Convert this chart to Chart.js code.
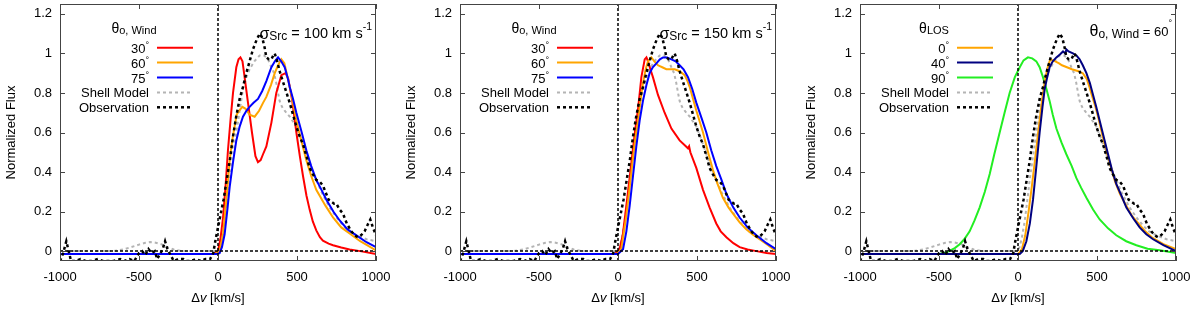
<!DOCTYPE html>
<html>
<head>
<meta charset="utf-8">
<script src="https://cdn.jsdelivr.net/npm/chart.js@4/dist/chart.umd.min.js"></script>
<style>
  body { margin: 0; background: #fff; }
  #wrap { position: relative; width: 1200px; height: 309px; }
  .panel { position: absolute; top: 0; width: 400px; height: 309px; }
</style>
</head>
<body>
<div id="wrap">
  <div class="panel" style="left:0"><canvas id="c1" width="400" height="309"></canvas></div>
  <div class="panel" style="left:400px"><canvas id="c2" width="400" height="309"></canvas></div>
  <div class="panel" style="left:800px"><canvas id="c3" width="400" height="309"></canvas></div>
</div>
<script>
// axis ticks
const xTicks = [-1000, -500, 0, 500, 1000];
const yTicks = [0, 0.2, 0.4, 0.6, 0.8, 1, 1.2];

// observation (same in every panel)
const obsV = [-1000, -980, -960, -945, -930, -900, -870, -840, -800, -760,
  -730, -700, -660, -620, -590, -560, -530, -500, -480, -460,
  -440, -420, -400, -385, -370, -350, -335, -320, -300, -280,
  -250, -220, -200, -170, -140, -110, -80, -50, -30, -15,
  0, 15, 35, 53, 75, 95, 115, 137, 158, 179,
  200, 221, 245, 264, 280, 295, 306, 322, 338, 350,
  359, 375, 390, 406, 422, 438, 454, 475, 496, 517,
  538, 560, 580, 600, 622, 645, 665, 680, 700, 717,
  735, 749, 770, 791, 815, 844, 865, 886, 905, 928,
  945, 964, 980, 1000];
const obsF = [-0.05, -0.01, 0.05, 0.0, -0.05, -0.05, -0.04, -0.05, -0.05, -0.04,
  -0.05, -0.05, -0.05, -0.04, -0.05, -0.04, -0.05, -0.01, 0.0, -0.02,
  0.01, -0.01, 0.0, -0.04, -0.02, 0.01, 0.05, 0.01, -0.02, -0.05,
  -0.04, -0.04, -0.05, -0.05, -0.04, -0.05, -0.04, -0.04, -0.01, 0.06,
  0.12, 0.18, 0.26, 0.35, 0.46, 0.58, 0.68, 0.77, 0.83, 0.9,
  0.96, 1.02, 1.07, 1.1, 1.08, 1.03, 0.98, 0.97, 0.97, 0.99,
  1.0, 0.96, 0.91, 0.87, 0.83, 0.79, 0.75, 0.69, 0.63, 0.58,
  0.54, 0.48, 0.42, 0.39, 0.36, 0.35, 0.33, 0.3, 0.26, 0.25,
  0.24, 0.24, 0.21, 0.19, 0.14, 0.1, 0.08, 0.07, 0.08, 0.1,
  0.13, 0.16, 0.12, 0.08];

// shell model (same in every panel)
const shellV = [-1000, -660, -600, -550, -500, -460, -430, -400, -360, -320,
  -280, -240, -200, -100, -20, 0, 10, 25, 42, 58,
  74, 95, 116, 137, 158, 180, 200, 230, 264, 290,
  306, 322, 338, 355, 369, 380, 390, 405, 422, 454,
  496, 530, 559, 590, 622, 660, 707, 750, 791, 830,
  876, 940, 1000];
const shellF = [0, 0, 0.008, 0.02, 0.033, 0.042, 0.046, 0.044, 0.035, 0.02,
  0.008, 0.002, 0, 0, 0, 0.005, 0.02, 0.07, 0.15, 0.25,
  0.36, 0.48, 0.6, 0.71, 0.82, 0.88, 0.92, 0.96, 0.99, 0.99,
  0.98, 0.96, 0.93, 0.9, 0.85, 0.8, 0.76, 0.73, 0.71, 0.68,
  0.63, 0.56, 0.49, 0.42, 0.36, 0.29, 0.22, 0.17, 0.13, 0.1,
  0.08, 0.06, 0.05];

// panel 1: sigma_Src = 100 km/s
const s100w30V = [-1000, -30, 0, 15, 32, 48, 63, 80, 95, 116, 130, 142, 155, 165, 190, 215, 237, 253, 270, 285,
  306, 338, 369, 401, 428, 445, 470, 496, 518, 538, 560, 580, 600, 622, 645, 664, 700, 728, 780, 833, 900, 1000];
const s100w30F = [-0.015, -0.015, 0, 0.06, 0.17, 0.33, 0.51, 0.67, 0.8, 0.93, 0.97, 0.98, 0.96, 0.9, 0.75, 0.6, 0.48, 0.45, 0.46, 0.49,
  0.53, 0.65, 0.8, 0.89, 0.9, 0.87, 0.76, 0.6, 0.48, 0.38, 0.28, 0.21, 0.15, 0.105, 0.07, 0.053, 0.038, 0.03, 0.018, 0.008, 0, -0.015];
const s100w60V = [-1000, -20, 10, 32, 53, 74, 90, 105, 118, 133, 154, 175, 200, 232, 260, 285, 306, 335, 359, 380,
  401, 420, 443, 470, 496, 530, 559, 590, 622, 680, 728, 780, 833, 900, 1000];
const s100w60F = [-0.015, -0.015, 0, 0.085, 0.26, 0.46, 0.56, 0.63, 0.69, 0.71, 0.73, 0.72, 0.69, 0.68, 0.71, 0.75, 0.78, 0.84, 0.9, 0.94,
  0.97, 0.95, 0.87, 0.77, 0.66, 0.55, 0.46, 0.38, 0.31, 0.23, 0.17, 0.12, 0.089, 0.05, 0.004];
const s100w75V = [-1000, -10, 10, 25, 42, 58, 74, 95, 116, 137, 158, 180, 200, 225, 253, 280, 306, 338, 360, 380,
  400, 422, 440, 454, 475, 496, 530, 559, 590, 622, 655, 686, 730, 770, 820, 876, 940, 1000];
const s100w75F = [-0.015, -0.015, -0.01, 0.02, 0.085, 0.2, 0.325, 0.45, 0.56, 0.63, 0.68, 0.71, 0.73, 0.75, 0.77, 0.81, 0.86, 0.93, 0.96, 0.98,
  0.96, 0.93, 0.88, 0.83, 0.77, 0.7, 0.6, 0.51, 0.43, 0.36, 0.31, 0.26, 0.2, 0.155, 0.11, 0.08, 0.045, 0.02];

// panel 2: sigma_Src = 150 km/s
const s150w30V = [-1000, -20, 10, 30, 53, 75, 95, 110, 127, 148, 169, 180, 190, 205, 221, 253, 295, 338, 390, 443,
  450, 458, 496, 538, 580, 622, 650, 686, 730, 770, 820, 876, 940, 1000];
const s150w30F = [-0.015, -0.015, 0.01, 0.08, 0.23, 0.38, 0.52, 0.62, 0.72, 0.88, 0.97, 0.98, 0.96, 0.92, 0.88, 0.79, 0.7, 0.62, 0.56, 0.52,
  0.53, 0.5, 0.42, 0.31, 0.22, 0.14, 0.1, 0.07, 0.04, 0.02, 0.008, 0, -0.01, -0.015];
const s150w60V = [-1000, -10, 21, 53, 75, 95, 110, 127, 142, 158, 175, 190, 211, 230, 253, 280, 306, 330, 359, 390,
  422, 440, 454, 475, 496, 538, 570, 601, 630, 664, 700, 728, 770, 812, 850, 896, 950, 1000];
const s150w60F = [-0.015, -0.015, 0.01, 0.18, 0.33, 0.47, 0.57, 0.66, 0.76, 0.85, 0.92, 0.96, 0.98, 0.96, 0.94, 0.93, 0.92, 0.92, 0.92, 0.91,
  0.89, 0.86, 0.83, 0.77, 0.71, 0.6, 0.5, 0.41, 0.34, 0.27, 0.22, 0.19, 0.145, 0.11, 0.085, 0.06, 0.03, 0];
const s150w75V = [-1000, 0, 32, 53, 74, 95, 116, 137, 158, 180, 200, 220, 243, 265, 285, 310, 338, 365, 390, 415,
  443, 470, 496, 530, 559, 590, 622, 655, 686, 730, 770, 820, 876, 940, 1000];
const s150w75F = [-0.015, -0.015, 0.01, 0.1, 0.23, 0.38, 0.53, 0.66, 0.76, 0.84, 0.9, 0.93, 0.95, 0.97, 0.98, 0.98, 0.97, 0.96, 0.94, 0.92,
  0.88, 0.82, 0.75, 0.67, 0.6, 0.51, 0.43, 0.36, 0.29, 0.22, 0.17, 0.12, 0.08, 0.04, 0.01];

// panel 3: theta_o,Wind = 60, different lines of sight
const los0V = [-1000, 0, 25, 46, 67, 88, 109, 125, 141, 157, 172, 188, 204, 220, 236, 260, 278, 310, 341, 383,
  410, 436, 452, 467, 490, 510, 536, 562, 590, 615, 645, 678, 720, 762, 805, 847, 920, 1000];
const los0F = [-0.015, -0.015, 0.01, 0.08, 0.2, 0.33, 0.47, 0.58, 0.69, 0.79, 0.87, 0.93, 0.97, 0.965, 0.96, 0.95, 0.94, 0.93, 0.92, 0.91,
  0.9, 0.87, 0.83, 0.79, 0.73, 0.67, 0.58, 0.5, 0.42, 0.35, 0.29, 0.24, 0.18, 0.14, 0.1, 0.07, 0.035, 0.01];
const los40V = [-1000, 11, 30, 53, 75, 95, 115, 137, 155, 169, 185, 200, 220, 243, 265, 285, 300, 306, 320, 348,
  370, 390, 410, 433, 455, 475, 495, 517, 545, 570, 595, 622, 655, 686, 730, 770, 812, 855, 920, 1000];
const los40F = [-0.015, -0.015, 0, 0.05, 0.14, 0.26, 0.42, 0.6, 0.73, 0.82, 0.88, 0.93, 0.96, 0.98, 0.995, 1.01, 1.0, 1.02, 1.01, 1.0,
  0.99, 0.97, 0.94, 0.9, 0.85, 0.79, 0.73, 0.66, 0.57, 0.49, 0.41, 0.34, 0.28, 0.22, 0.165, 0.12, 0.085, 0.06, 0.03, 0];
const los90V = [-1000, -500, -450, -400, -369, -340, -306, -275, -243, -210, -179, -150, -116, -85, -53, -20, 11, 35, 63, 90,
  116, 137, 158, 180, 200, 220, 243, 275, 306, 340, 369, 400, 433, 475, 517, 570, 622, 685, 749, 820, 897, 1000];
const los90F = [-0.015, -0.015, -0.005, 0.015, 0.035, 0.06, 0.1, 0.155, 0.22, 0.3, 0.39, 0.49, 0.6, 0.7, 0.8, 0.88, 0.93, 0.965, 0.98, 0.975,
  0.96, 0.93, 0.88, 0.82, 0.76, 0.69, 0.62, 0.55, 0.49, 0.43, 0.37, 0.32, 0.27, 0.21, 0.16, 0.115, 0.08, 0.05, 0.03, 0.012, 0.004, -0.01];

const FONT = '"Liberation Sans", Arial, sans-serif';

function pts(v, f) {
  return v.map((x, i) => ({ x: x, y: f[i] }));
}

function curve(label, v, f, color) {
  return { label: label, data: pts(v, f), borderColor: color, borderWidth: 2, pointRadius: 0, fill: false };
}

function obsSet() {
  return { label: 'Observation', data: pts(obsV, obsF), borderColor: '#000', borderWidth: 2.5,
    borderDash: [3, 3], pointRadius: 0, fill: false };
}

function shellSet() {
  return { label: 'Shell Model', data: pts(shellV, shellF), borderColor: '#b4b4b4', borderWidth: 2,
    borderDash: [3, 3], pointRadius: 0, fill: false };
}

// zero reference lines
function zeroLines() {
  return [
    { label: 'zeroV', data: [{ x: 0, y: -0.05 }, { x: 0, y: 1.25 }], borderColor: '#000', borderWidth: 1.5,
      borderDash: [3, 2], pointRadius: 0, fill: false, noLegend: true },
    { label: 'zeroH', data: [{ x: -1000, y: 0 }, { x: 1000, y: 0 }], borderColor: '#000', borderWidth: 1.5,
      borderDash: [3, 2], pointRadius: 0, fill: false, noLegend: true }
  ];
}

// draw text made of pieces (main text, sub/superscripts)
function richWidth(ctx, parts) {
  let w = 0;
  parts.forEach(p => {
    ctx.font = (p.it ? 'italic ' : '') + p.s + 'px ' + FONT;
    w += ctx.measureText(p.t).width;
  });
  return w;
}

function drawRich(ctx, parts, x, y, align) {
  const w = richWidth(ctx, parts);
  let cx = x;
  if (align === 'right') cx = x - w;
  if (align === 'center') cx = x - w / 2;
  ctx.textAlign = 'left';
  ctx.textBaseline = 'alphabetic';
  ctx.fillStyle = '#000';
  parts.forEach(p => {
    ctx.font = (p.it ? 'italic ' : '') + p.s + 'px ' + FONT;
    ctx.fillText(p.t, cx, y + (p.dy || 0));
    cx += ctx.measureText(p.t).width;
  });
}

function deg(n) {
  return [{ t: n, s: 13 }, { t: '°', s: 9, dy: -5 }];
}

// frame with inward ticks, legend and labels
function panelPlugin(legendTitle, entryNames, note) {
  return {
    id: 'panelDeco',
    afterDraw(chart) {
      const ctx = chart.ctx;
      const a = chart.chartArea;
      const xs = chart.scales.x, ys = chart.scales.y;
      ctx.save();
      ctx.strokeStyle = '#444';
      ctx.lineWidth = 1;
      ctx.setLineDash([]);
      ctx.strokeRect(a.left + 0.5, a.top + 0.5, a.right - a.left - 1, a.bottom - a.top - 1);
      ctx.beginPath();
      yTicks.forEach(v => {
        const py = Math.round(ys.getPixelForValue(v)) + 0.5;
        ctx.moveTo(a.left, py); ctx.lineTo(a.left + 5, py);
        ctx.moveTo(a.right, py); ctx.lineTo(a.right - 5, py);
      });
      xTicks.forEach(v => {
        const px = Math.round(xs.getPixelForValue(v)) + 0.5;
        ctx.moveTo(px, a.bottom); ctx.lineTo(px, a.bottom - 5);
        ctx.moveTo(px, a.top); ctx.lineTo(px, a.top + 5);
      });
      ctx.stroke();

      // legend
      drawRich(ctx, legendTitle, 134, 33, 'center');
      const rowY = [47.7, 62.6, 77.5, 92.4, 107.3];
      const sets = chart.data.datasets.filter(d => !d.noLegend);
      entryNames.forEach((name, i) => {
        const ds = sets.find(d => d.label === name.key);
        const y = rowY[i];
        drawRich(ctx, name.parts, 149, y + 5, 'right');
        ctx.strokeStyle = ds.borderColor;
        ctx.lineWidth = ds.borderWidth;
        ctx.setLineDash(ds.borderDash || []);
        ctx.beginPath();
        ctx.moveTo(157, y);
        ctx.lineTo(193, y);
        ctx.stroke();
      });
      ctx.setLineDash([]);

      // annotation in upper right
      drawRich(ctx, note, 372, 38, 'right');

      // x axis title with italic v
      const xt = [{ t: 'Δ', s: 13 }, { t: 'v', s: 13, it: true }, { t: ' [km/s]', s: 13 }];
      drawRich(ctx, xt, (a.left + a.right) / 2, 302, 'center');
      ctx.restore();
    }
  };
}

function makeChart(id, datasets, plugin) {
  new Chart(document.getElementById(id), {
    type: 'line',
    data: { datasets: datasets },
    options: {
      responsive: false,
      animation: false,
      layout: { padding: { left: 0, right: 24, top: 4, bottom: 0 } },
      plugins: { legend: { display: false }, tooltip: { enabled: false } },
      scales: {
        x: {
          type: 'linear', min: -1000, max: 1000,
          afterBuildTicks: s => { s.ticks = xTicks.map(v => ({ value: v })); },
          afterFit: s => { s.height = 48; s.paddingLeft = 0; s.paddingRight = 0; },
          grid: { display: false, drawTicks: false },
          border: { display: false },
          ticks: { color: '#000', font: { family: FONT, size: 13 }, padding: 9, maxRotation: 0,
            callback: v => String(v) }
        },
        y: {
          type: 'linear', min: -0.05, max: 1.25,
          afterBuildTicks: s => { s.ticks = yTicks.map(v => ({ value: v })); },
          afterFit: s => { s.width = 60; s.paddingTop = 0; s.paddingBottom = 0; },
          grid: { display: false, drawTicks: false },
          border: { display: false },
          ticks: { color: '#000', font: { family: FONT, size: 13 }, padding: 8,
            callback: v => String(Math.round(v * 10) / 10) },
          title: { display: true, text: 'Normalized Flux', color: '#000',
            font: { family: FONT, size: 13 }, padding: { top: 4, bottom: 0 } }
        }
      }
    },
    plugins: [plugin]
  });
}

const windTitle = [{ t: 'θ', s: 14 }, { t: 'o, Wind', s: 11, dy: 1 }];
const windEntries = [
  { key: '30', parts: deg('30') },
  { key: '60', parts: deg('60') },
  { key: '75', parts: deg('75') },
  { key: 'Shell Model', parts: [{ t: 'Shell Model', s: 13 }] },
  { key: 'Observation', parts: [{ t: 'Observation', s: 13 }] }
];
function sigmaNote(n) {
  return [{ t: 'σ', s: 16, dy: 1 }, { t: 'Src', s: 12, dy: 2 }, { t: ' = ' + n + ' km s', s: 14.5 },
    { t: '-1', s: 10.5, dy: -8 }];
}

document.addEventListener('DOMContentLoaded', function () {
  makeChart('c1', [obsSet()].concat(zeroLines(), [
    curve('75', s100w75V, s100w75F, '#0000ff'),
    curve('60', s100w60V, s100w60F, '#ffa500'),
    curve('30', s100w30V, s100w30F, '#ff0000'),
    shellSet()
  ]), panelPlugin(windTitle, windEntries, sigmaNote('100')));

  makeChart('c2', [obsSet()].concat(zeroLines(), [
    curve('75', s150w75V, s150w75F, '#0000ff'),
    curve('60', s150w60V, s150w60F, '#ffa500'),
    curve('30', s150w30V, s150w30F, '#ff0000'),
    shellSet()
  ]), panelPlugin(windTitle, windEntries, sigmaNote('150')));

  makeChart('c3', [obsSet()].concat(zeroLines(), [
    curve('40', los40V, los40F, '#000080'),
    curve('0', los0V, los0F, '#ffa500'),
    curve('90', los90V, los90F, '#22ee22'),
    shellSet()
  ]), panelPlugin(
    [{ t: 'θ', s: 14 }, { t: 'LOS', s: 11, dy: 1 }],
    [
      { key: '0', parts: deg('0') },
      { key: '40', parts: deg('40') },
      { key: '90', parts: deg('90') },
      { key: 'Shell Model', parts: [{ t: 'Shell Model', s: 13 }] },
      { key: 'Observation', parts: [{ t: 'Observation', s: 13 }] }
    ],
    [{ t: 'θ', s: 16, dy: -2 }, { t: 'o, Wind', s: 12, dy: 0 }, { t: ' = 60', s: 13, dy: -2.5 },
      { t: '°', s: 9, dy: -12 }]
  ));
});
</script>
</body>
</html>
